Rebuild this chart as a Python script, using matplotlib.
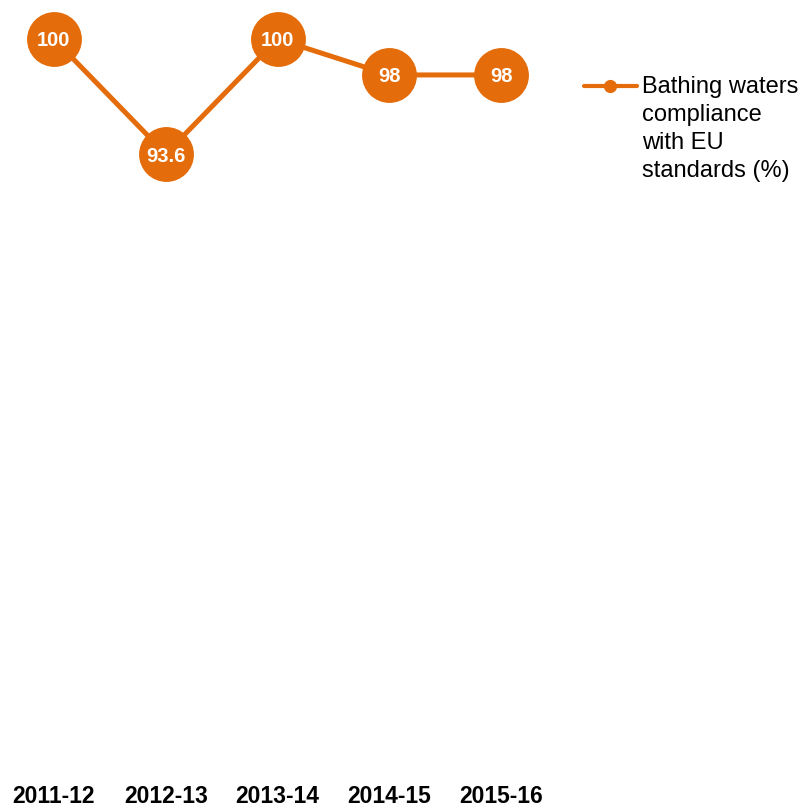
import matplotlib

matplotlib.use("Agg")
import matplotlib.pyplot as plt
from matplotlib.lines import Line2D

plt.rcParams["font.family"] = ["Liberation Sans", "DejaVu Sans"]

years = ["2011-12", "2012-13", "2013-14", "2014-15", "2015-16"]
compliance = [100, 93.6, 100, 98, 98]
value_labels = ["100", "93.6", "100", "98", "98"]
series_name = "Bathing waters\ncompliance\nwith EU\nstandards (%)"

ORANGE = "#E46C0A"
W, H = 801, 808

fig = plt.figure(figsize=(W / 100, H / 100), dpi=100)
# axes placed in pixels: x categories 112 px apart, 100 -> y=39 px from top
left_px, width_px = -2, 559
bottom_px, top_px = 783, 0
ax = fig.add_axes([left_px / W, (H - bottom_px) / H, width_px / W, (bottom_px - top_px) / H])

x = list(range(len(years)))
ax.plot(x, compliance, color=ORANGE, lw=3.6, marker="o", markersize=39.5,
        markeredgewidth=0, clip_on=False, solid_capstyle="round", zorder=3)
for xi, yi, lab in zip(x, compliance, value_labels):
    ax.text(xi, yi, lab, ha="center", va="center_baseline", color="white",
            fontsize=14.5, fontweight="bold", zorder=4)

px_per_unit = 17.97
ax.set_xlim(-0.5, 4.5)
ax.set_ylim(100 - (bottom_px - 39) / px_per_unit, 100 + 39 / px_per_unit)
ax.set_xticks(x)
ax.set_xticklabels(years, fontsize=16.5, fontweight="bold")
ax.tick_params(axis="x", length=0, pad=1.5)
ax.set_yticks([])
for s in ax.spines.values():
    s.set_visible(False)

# legend drawn by hand to sit where the original does
ly = (H - 86) / H
fig.add_artist(Line2D([584 / W, 637 / W], [ly, ly], color=ORANGE, lw=3,
                      solid_capstyle="round"))
fig.add_artist(Line2D([610 / W], [ly], color=ORANGE, marker="o", markersize=9.5,
                      markeredgewidth=0))
fig.text(642 / W, (H - 76) / H, series_name, fontsize=17, ha="left", va="top",
         linespacing=1.36, color="black")

fig.savefig("out.png", dpi=100)
